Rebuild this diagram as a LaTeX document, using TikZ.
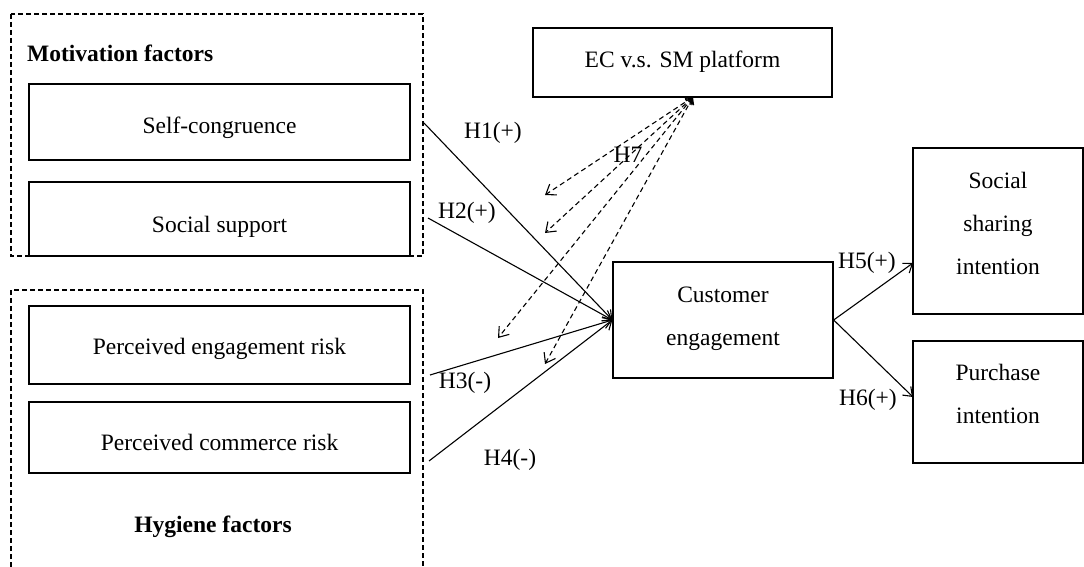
\documentclass[tikz,border=0pt]{standalone}
\usepackage{fontspec}
\setmainfont{Liberation Serif}
\usetikzlibrary{arrows.meta}
\begin{document}
\begin{tikzpicture}[x=1pt,y=-1pt,
  font=\fontsize{23.5}{43}\selectfont,
  box/.style={draw,line width=1.3pt,inner sep=0pt,align=center},
  grp/.style={draw,line width=1.2pt,dash pattern=on 5pt off 3pt},
  conn/.style={line width=1.1pt,-{Straight Barb[length=8pt,width=12pt]}},
  dconn/.style={line width=1.1pt,dash pattern=on 5pt off 3.5pt,{Straight Barb[length=6pt,width=9pt]}-{Straight Barb[length=9pt,width=13pt]}},
  lbl/.style={inner sep=0pt,align=center}]
\useasboundingbox (0,0) rectangle (1084,567);
% group boxes
\draw[grp] (11,14) rectangle (423,256);
\draw[grp] (11,567) -- (11,290) -- (423,290) -- (423,567);
\node[lbl,anchor=west,font=\fontsize{23.5}{26}\selectfont\bfseries] (mot) at (27,53) {Motivation factors};
\node[lbl,font=\fontsize{23.5}{26}\selectfont\bfseries] (hyg) at (213,527) {Hygiene factors};
% boxes
\node[box,minimum width=381pt,minimum height=76pt] (sc) at (219.5,122) {};
\node[box,minimum width=381pt,minimum height=74pt] (ss) at (219.5,219) {};
\node[box,minimum width=381pt,minimum height=78pt] (per) at (219.5,345) {};
\node[box,minimum width=381pt,minimum height=71pt] (pcr) at (219.5,437.5) {};
\node[box,minimum width=299pt,minimum height=69pt] (ecsm) at (682.5,62.5) {};
\node[box,minimum width=220pt,minimum height=116pt] (ce) at (723,320) {};
\node[box,minimum width=170pt,minimum height=166pt] (ssi) at (998,231) {};
\node[box,minimum width=170pt,minimum height=122pt] (pi) at (998,402) {};
% box texts
\node[lbl,yshift=-6pt] (tsc) at (sc.center) {Self-congruence};
\node[lbl,yshift=-8pt] (tss) at (ss.center) {Social support};
\node[lbl,yshift=-4pt] (tper) at (per.center) {Perceived engagement risk};
\node[lbl,yshift=-5pt] (tpcr) at (pcr.center) {Perceived commerce risk};
\node[lbl,yshift=1pt] (tec) at (ecsm.center) {EC v.s. SM platform};
\node[lbl,yshift=1pt] (tce) at (ce.center) {Customer\\engagement};
\node[lbl,yshift=8pt] (tssi) at (ssi.center) {Social\\sharing\\intention};
\node[lbl,yshift=8pt] (tpi) at (pi.center) {Purchase\\intention};
% free ends
\coordinate (s1) at (424,123);
\coordinate (s2) at (428,218);
\coordinate (s3) at (430,375);
\coordinate (s4) at (429,461);
\coordinate (e5) at (913,263);
\coordinate (e6) at (913,397);
\coordinate (m0) at (693,97);
\coordinate (m1) at (545,195);
\coordinate (m2) at (545,233);
\coordinate (m3) at (498,338);
\coordinate (m4) at (545,364);
% connectors
\draw[conn] (s1) -- (ce.west);
\draw[conn] (s2) -- (ce.west);
\draw[conn] (s3) -- (ce.west);
\draw[conn] (s4) -- (ce.west);
\draw[conn] (ce.east) -- (e5);
\draw[conn] (ce.east) -- (e6);
\draw[dconn] (m0) -- (m1);
\draw[dconn] (m0) -- (m2);
\draw[dconn] (m0) -- (m3);
\draw[dconn] (m0) -- (m4);
% labels
\node[lbl] (h1) at (493,133) {H1(+)};
\node[lbl] (h2) at (467,213) {H2(+)};
\node[lbl] (h3) at (465,383) {H3(-)};
\node[lbl] (h4) at (510,460) {H4(-)};
\node[lbl] (h7) at (628,155) {H7};
\node[lbl] (h5) at (867,263) {H5(+)};
\node[lbl] (h6) at (868,400) {H6(+)};
\end{tikzpicture}
\end{document}
